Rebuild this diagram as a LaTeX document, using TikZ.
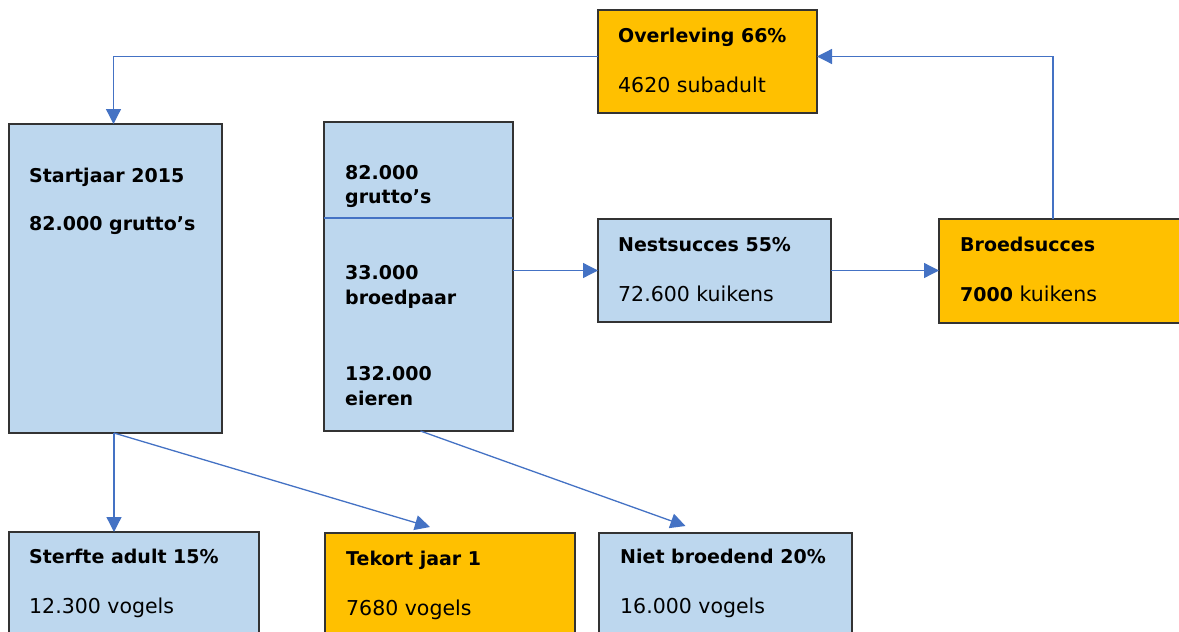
\documentclass[tikz,border=0pt]{standalone}
\usepackage{fontspec}
\setmainfont{DejaVu Sans}
\usetikzlibrary{arrows.meta,calc}
\definecolor{boxblue}{HTML}{BDD7EE}
\definecolor{boxorange}{HTML}{FFC000}
\definecolor{linkblue}{HTML}{4472C4}
\begin{document}
\begin{tikzpicture}[x=1pt,y=-1pt,
  box/.style={draw=black!80, line width=1.2pt, inner sep=0pt, outer sep=0pt, anchor=north west},
  bluebox/.style={box, fill=boxblue},
  orangebox/.style={box, fill=boxorange},
  txt/.style={anchor=base west, inner sep=0pt, font=\fontsize{20.5}{25}\selectfont},
  btxt/.style={txt, font=\fontsize{19}{25}\selectfont\bfseries},
  conn/.style={draw=linkblue, line width=1.3pt, -{Triangle[length=15pt,width=15pt]}},
  divline/.style={draw=linkblue, line width=1.3pt},
]
\useasboundingbox (0,0) rectangle (1179,632);
\clip (0,0) rectangle (1179,632);

% boxes
\node[orangebox, minimum width=219pt, minimum height=103pt] (ov) at (598,10) {};
\node[bluebox, minimum width=213pt, minimum height=309pt] (start) at (9,124) {};
\node[bluebox, minimum width=189pt, minimum height=309pt] (mid) at (324,122) {};
\node[bluebox, minimum width=233pt, minimum height=103pt] (nest) at (598,219) {};
\node[orangebox, minimum width=260pt, minimum height=104pt] (broed) at (939,219) {};
\node[bluebox, minimum width=250pt, minimum height=120pt] (sterfte) at (9,532) {};
\node[orangebox, minimum width=250pt, minimum height=120pt] (tekort) at (325,533) {};
\node[bluebox, minimum width=253pt, minimum height=120pt] (niet) at (599,533) {};

% divider in middle box
\draw[divline] ([yshift=-96pt]mid.north west) -- ([yshift=-96pt]mid.north east);

% texts
\node[btxt] (ov1) at (618,42) {Overleving 66\%};
\node[txt]  (ov2) at (618,92) {4620 subadult};

\node[btxt] (st1) at (29,182) {Startjaar 2015};
\node[btxt] (st2) at (29,230) {82.000 grutto’s};

\node[btxt] (m1) at (345,179) {82.000};
\node[btxt] (m2) at (345,203) {grutto’s};
\node[btxt] (m3) at (345,279) {33.000};
\node[btxt] (m4) at (345,304) {broedpaar};
\node[btxt] (m5) at (345,380) {132.000};
\node[btxt] (m6) at (345,405) {eieren};

\node[btxt] (n1) at (618,251) {Nestsucces 55\%};
\node[txt]  (n2) at (618,301) {72.600 kuikens};

\node[btxt] (b1) at (960,251) {Broedsucces};
\node[txt]  (b2) at (960,301) {{\fontsize{19}{25}\selectfont\bfseries 7000} kuikens};

\node[btxt] (s1) at (29,563) {Sterfte adult 15\%};
\node[txt]  (s2) at (29,613) {12.300 vogels};

\node[btxt] (t1) at (346,565) {Tekort jaar 1};
\node[txt]  (t2) at (346,615) {7680 vogels};

\node[btxt] (nb1) at (620,563) {Niet broedend 20\%};
\node[txt]  (nb2) at (620,613) {16.000 vogels};

% connectors
\draw[conn] ([yshift=5pt]ov.west) -| ([xshift=-2pt]start.north);
\draw[conn] ([xshift=-16pt]broed.north) |- ([yshift=5pt]ov.east);
\draw[conn] (mid.east |- nest.west) -- (nest.west);
\draw[conn] (nest.east) -- (nest.east -| broed.west);
\draw[conn] ([xshift=-1.5pt]start.south) -- ([xshift=-1.5pt]start.south |- sterfte.north);
\draw[conn] ([xshift=-1.5pt]start.south) -- ([xshift=-20pt,yshift=6pt]tekort.north);
\draw[conn] ([xshift=2pt]mid.south) -- ([xshift=-40pt,yshift=7pt]niet.north);
\end{tikzpicture}
\end{document}
